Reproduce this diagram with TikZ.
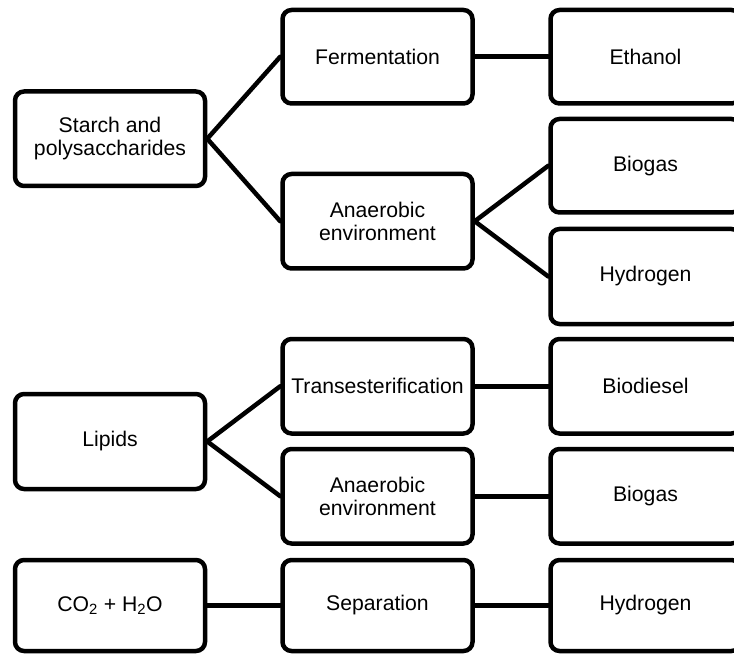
\documentclass[tikz,border=0pt]{standalone}
\usepackage{fontspec}
\setmainfont{Liberation Sans}
\begin{document}
\begin{tikzpicture}[x=1pt,y=-1pt,
  box/.style={draw=black, line width=4.5pt, rounded corners=9pt, fill=white,
    minimum width=190pt, minimum height=94pt, inner sep=0pt,
    align=center, font=\fontsize{21.2}{22.5}\selectfont},
  link/.style={line width=4.5pt, line cap=round}]
\useasboundingbox (0,0) rectangle (734,655);
\clip (0,0) rectangle (734,655);
\fill[white] (0,0) rectangle (734,655);

% source column
\node[box, minimum height=94.5pt] (starch) at (110,138.75) {Starch and\\polysaccharides};
\node[box, minimum height=95pt] (lipids) at (110,441.5) {Lipids};
\node[box, minimum height=91pt] (water) at (110,605.5) {CO\textsubscript{2} + H\textsubscript{2}O};

% process column
\node[box, minimum height=93.5pt] (ferm) at (377.5,56.75) {Fermentation};
\node[box, minimum height=94.5pt] (anaA) at (377.5,221.25) {Anaerobic\\environment};
\node[box, minimum height=94.5pt] (trans) at (377.5,386.25) {Transesterification};
\node[box, minimum height=94.5pt] (anaB) at (377.5,496.25) {Anaerobic\\environment};
\node[box, minimum height=91pt] (sep) at (377.5,605.5) {Separation};

% product column
\node[box, minimum height=93.5pt] (eth) at (645.5,56.75) {Ethanol};
\node[box, minimum height=93.5pt] (gasA) at (645.5,165.75) {Biogas};
\node[box, minimum height=95pt] (hyA) at (645.5,276.5) {Hydrogen};
\node[box, minimum height=94.5pt] (diesel) at (645.5,386.25) {Biodiesel};
\node[box, minimum height=94.5pt] (gasB) at (645.5,496.25) {Biogas};
\node[box, minimum height=91pt] (hyB) at (645.5,605.5) {Hydrogen};

% connectors
\draw[link] (starch.east) -- (ferm.west);
\draw[link] (starch.east) -- (anaA.west);
\draw[link] (ferm.east) -- (eth.west);
\draw[link] (anaA.east) -- (gasA.west);
\draw[link] (anaA.east) -- (hyA.west);
\draw[link] (lipids.east) -- (trans.west);
\draw[link] (lipids.east) -- (anaB.west);
\draw[link] (trans.east) -- (diesel.west);
\draw[link] (anaB.east) -- (gasB.west);
\draw[link] (water.east) -- (sep.west);
\draw[link] (sep.east) -- (hyB.west);
\end{tikzpicture}
\end{document}
